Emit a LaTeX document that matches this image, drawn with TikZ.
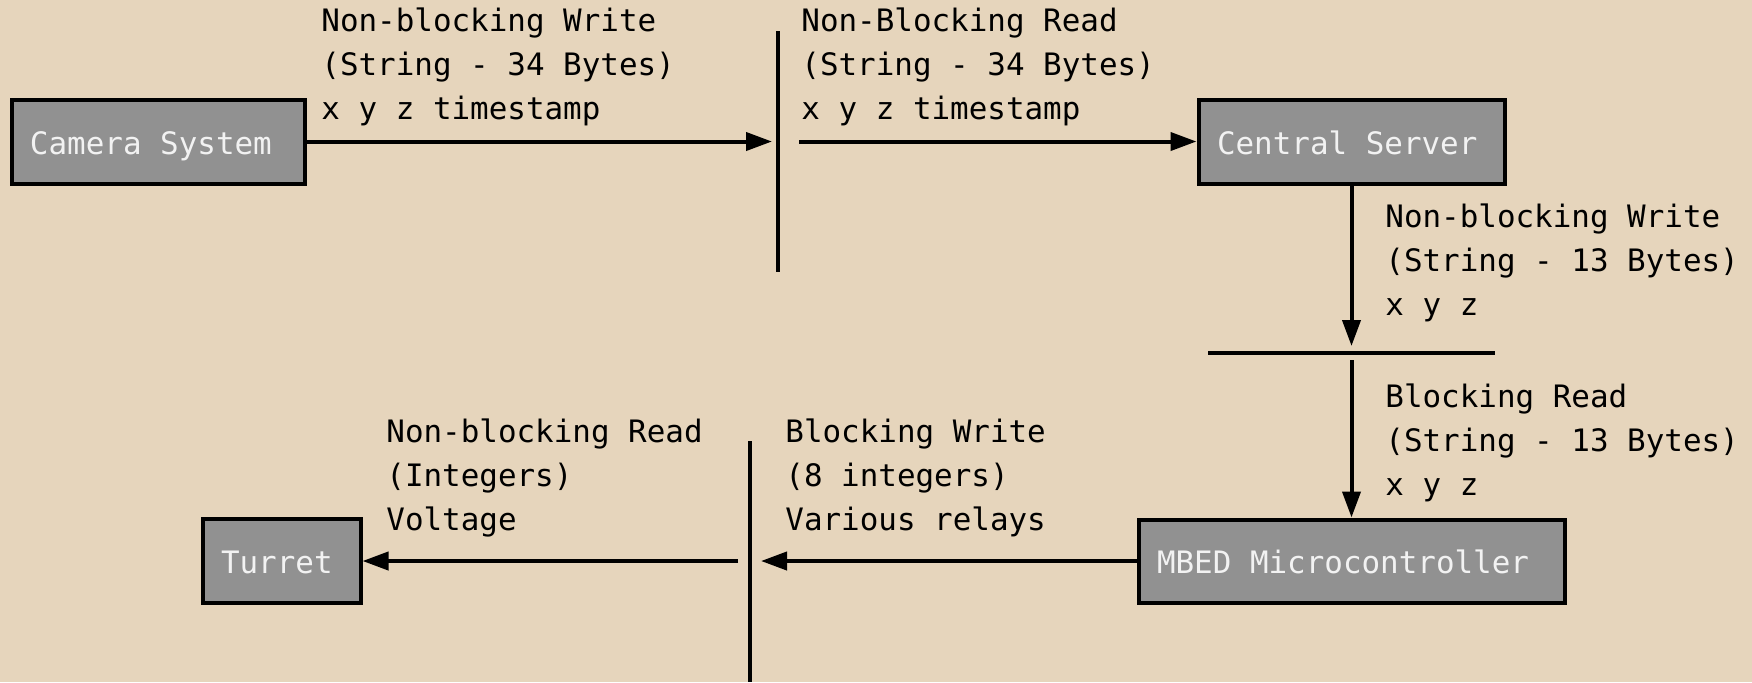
\documentclass[tikz,border=0pt]{standalone}
\usepackage{fontspec}
\setmonofont{DejaVu Sans Mono}
\usetikzlibrary{arrows.meta}
\definecolor{paper}{HTML}{E6D5BC}
\definecolor{boxfill}{HTML}{919191}
\definecolor{boxtext}{HTML}{F2F2F2}
\begin{document}
\begin{tikzpicture}[x=0.5pt,y=-0.5pt,
  every node/.style={font=\ttfamily\fontsize{15.45pt}{22pt}\selectfont},
  box/.style={draw=black, line width=2pt, fill=boxfill, text=boxtext,
    inner xsep=9.25pt, inner ysep=0pt, text height=12.5pt, text depth=0pt},
  lbl/.style={anchor=base west, inner sep=0pt, text=black},
  link/.style={line width=2pt, -{Triangle[length=13pt,width=9pt]}},
  bar/.style={line width=2pt}]
\fill[paper] (0,0) rectangle (1752,682);
\useasboundingbox (0,0) rectangle (1752,682);

% stages
\node[box, minimum height=42pt] (cam) at (158,141.5) {\makebox[128pt][l]{Camera System}};
\node[box, minimum height=42pt] (srv) at (1351.5,141.5) {\makebox[134.5pt][l]{Central Server}};
\node[box, minimum height=41.5pt] (mbed) at (1351.5,561) {\makebox[194.5pt][l]{MBED Microcontroller}};
\node[box, minimum height=42pt] (tur) at (281.5,561) {\makebox[60.5pt][l]{Turret}};

% interface bars
\coordinate (b1top) at (778,31);   \coordinate (b1bot) at (778,272);
\coordinate (b2lft) at (1208,353); \coordinate (b2rgt) at (1495,353);
\coordinate (b3top) at (750,441);  \coordinate (b3bot) at (750,682);
\draw[bar] (b1top) -- (b1bot);
\draw[bar] (b2lft) -- (b2rgt);
\draw[bar] (b3top) -- (b3bot);

% ends of the links at each bar
\coordinate (b1in)  at (772,141.5);
\coordinate (b1out) at (799,141.5);
\coordinate (b2in)  at (1351.5,346);
\coordinate (b2out) at (1351.5,360);
\coordinate (b3in)  at (761,561);
\coordinate (b3out) at (738,561);

% links
\draw[link] (cam.east) -- (b1in);
\draw[link] (b1out) -- (srv.west);
\draw[link] (srv.south) -- (b2in);
\draw[link] (b2out) -- (mbed.north);
\draw[link] (mbed.west) -- (b3in);
\draw[link] (b3out) -- (tur.east);

% link descriptions
\foreach \s [count=\i] in {Non-blocking Write,(String - 34 Bytes),x y z timestamp}
  \node[lbl] (camw\i) at (321,{-13+44*\i}) {\s};
\foreach \s [count=\i] in {Non-Blocking Read,(String - 34 Bytes),x y z timestamp}
  \node[lbl] (srvr\i) at (801,{-13+44*\i}) {\s};
\foreach \s [count=\i] in {Non-blocking Write,(String - 13 Bytes),x y z}
  \node[lbl] (srvw\i) at (1385,{183+44*\i}) {\s};
\foreach \s [count=\i] in {Blocking Read,(String - 13 Bytes),x y z}
  \node[lbl] (mbedr\i) at (1385,{363+44*\i}) {\s};
\foreach \s [count=\i] in {Non-blocking Read,(Integers),Voltage}
  \node[lbl] (turr\i) at (386,{398+44*\i}) {\s};
\foreach \s [count=\i] in {Blocking Write,(8 integers),Various relays}
  \node[lbl] (mbedw\i) at (785,{398+44*\i}) {\s};
\end{tikzpicture}
\end{document}
